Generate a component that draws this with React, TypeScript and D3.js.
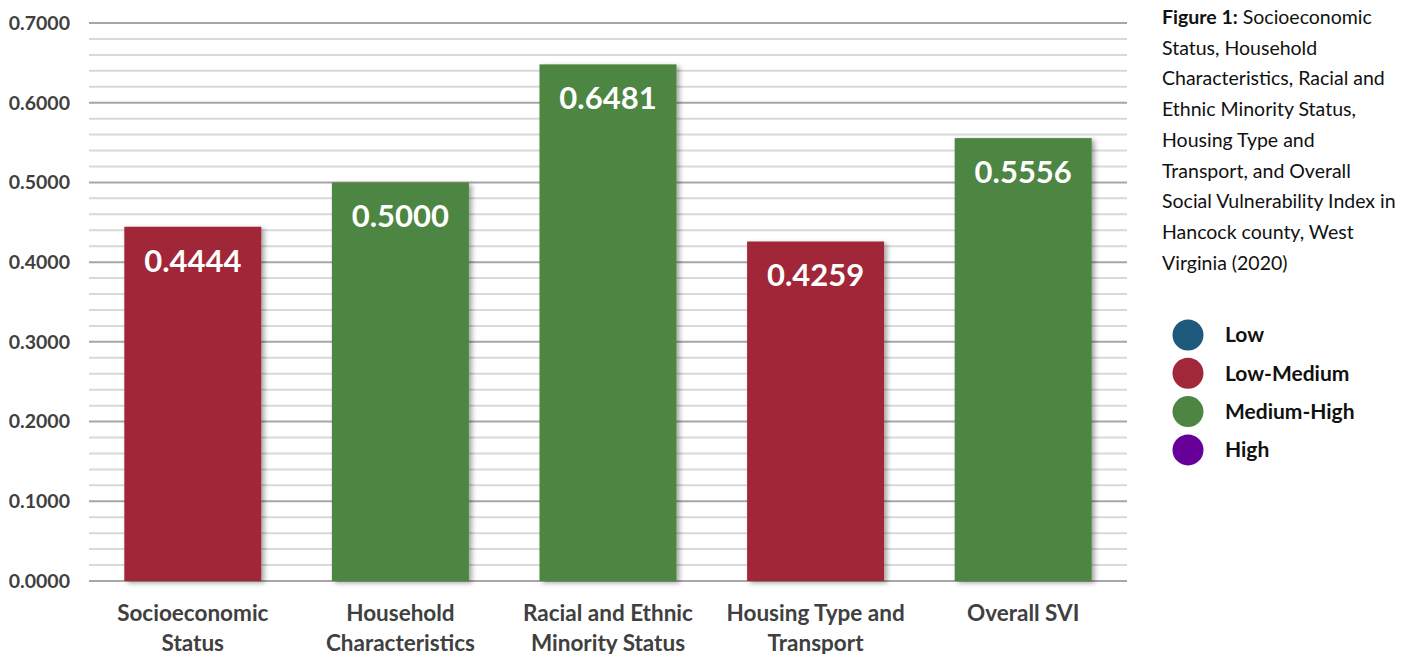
import React from "react";
import * as d3 from "d3";

const categories: string[][] = [
  ["Socioeconomic", "Status"],
  ["Household", "Characteristics"],
  ["Racial and Ethnic", "Minority Status"],
  ["Housing Type and", "Transport"],
  ["Overall SVI"],
];
const values: number[] = [0.4444, 0.5, 0.6481, 0.4259, 0.5556];
const levels: string[] = ["Low-Medium", "Medium-High", "Medium-High", "Low-Medium", "Medium-High"];
const legendItems: string[] = ["Low", "Low-Medium", "Medium-High", "High"];
const levelColors: Record<string, string> = {
  Low: "#1f5a7c",
  "Low-Medium": "#a02838",
  "Medium-High": "#4e8542",
  High: "#660099",
};
const majorTicks: number[] = [0, 0.1, 0.2, 0.3, 0.4, 0.5, 0.6, 0.7];
const captionLines: string[] = [
  "Socioeconomic",
  "Status, Household",
  "Characteristics, Racial and",
  "Ethnic Minority Status,",
  "Housing Type and",
  "Transport, and Overall",
  "Social Vulnerability Index in",
  "Hancock county, West",
  "Virginia (2020)",
];

const W = 1419;
const H = 654;
const plotLeft = 89;
const plotRight = 1127;
const font = "Lato, 'Open Sans', sans-serif";

export default function App() {
  const x = d3
    .scaleBand<number>()
    .domain(d3.range(values.length))
    .range([plotLeft, plotRight])
    .paddingInner(0.34)
    .paddingOuter(0.17);
  const y = d3.scaleLinear().domain([0, 0.7]).range([581, 23]);
  const minorTicks = d3.range(0, 35).map((i) => i * 0.02).filter((v) => Math.abs(v * 10 - Math.round(v * 10)) > 1e-6);

  return (
    <svg width={W} height={H} style={{ position: "absolute", left: 0, top: 0, background: "#fff" }}>
      <defs>
        <filter id="sh" x="-10%" y="-10%" width="130%" height="130%">
          <feDropShadow dx="3" dy="2" stdDeviation="2.5" floodColor="#000" floodOpacity="0.35" />
        </filter>
      </defs>
      <rect width={W} height={H} fill="#fff" />
      {minorTicks.map((t) => (
        <line key={"m" + t} x1={plotLeft} x2={plotRight} y1={y(t)} y2={y(t)} stroke="#d9d9d9" strokeWidth={2} />
      ))}
      {majorTicks.map((t) => (
        <line key={"M" + t} x1={plotLeft} x2={plotRight} y1={y(t)} y2={y(t)} stroke="#a6a6a6" strokeWidth={2} />
      ))}
      {majorTicks.map((t) => (
        <text
          key={"t" + t}
          x={70}
          y={y(t)}
          dy="0.35em"
          textAnchor="end"
          fontFamily={font}
          fontWeight={700}
          fontSize={19.5}
          fill="#404040"
        >
          {t.toFixed(4)}
        </text>
      ))}
      {values.map((v, i) => (
        <rect
          key={"b" + i}
          x={x(i)}
          y={y(v)}
          width={x.bandwidth()}
          height={y(0) - y(v)}
          fill={levelColors[levels[i]]}
          filter="url(#sh)"
        />
      ))}
      {values.map((v, i) => (
        <text
          key={"v" + i}
          x={(x(i) as number) + x.bandwidth() / 2}
          y={y(v) + 45}
          textAnchor="middle"
          fontFamily={font}
          fontWeight={700}
          fontSize={31}
          fill="#fff"
        >
          {v.toFixed(4)}
        </text>
      ))}
      {categories.map((lines, i) =>
        lines.map((l, j) => (
          <text
            key={"c" + i + j}
            x={(x(i) as number) + x.bandwidth() / 2}
            y={621 + j * 30}
            textAnchor="middle"
            fontFamily={font}
            fontWeight={700}
            fontSize={22.5}
            fill="#404040"
          >
            {l}
          </text>
        ))
      )}
      <text x={1162} y={24} fontFamily={font} fontSize={19.5} fill="#111">
        <tspan fontWeight={700}>Figure 1:</tspan> {captionLines[0]}
      </text>
      {captionLines.slice(1).map((l, i) => (
        <text key={"cap" + i} x={1162} y={24 + (i + 1) * 30.7} fontFamily={font} fontSize={19.5} fill="#111">
          {l}
        </text>
      ))}
      {legendItems.map((l, i) => (
        <g key={"lg" + i}>
          <circle cx={1188} cy={335 + i * 38.3} r={15.5} fill={levelColors[l]} />
          <text x={1225} y={335 + i * 38.3} dy="0.35em" fontFamily={font} fontWeight={700} fontSize={21} fill="#111">
            {l}
          </text>
        </g>
      ))}
    </svg>
  );
}
